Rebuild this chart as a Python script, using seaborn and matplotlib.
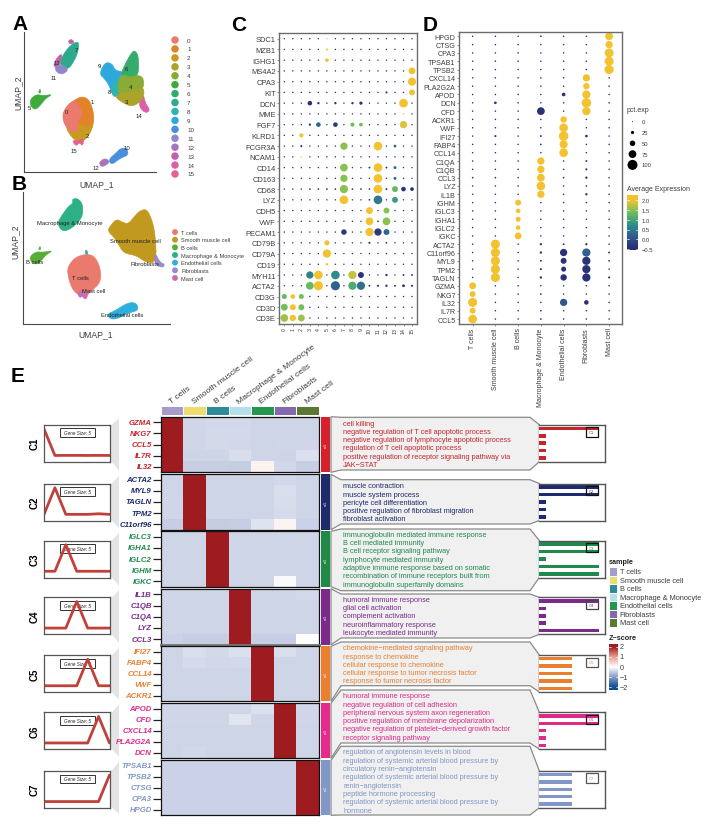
import numpy as np
import pandas as pd
import seaborn as sns
import matplotlib.pyplot as plt
from matplotlib.colors import LinearSegmentedColormap, ListedColormap
from matplotlib.patches import Polygon, Rectangle

W, H = 718, 829

# ---- panel A / B umap outlines (painted in list order, later ones sit on top)
a_1 = [(245,292),(265,300),(275,320),(282,350),(280,378),(270,400),(255,420),(240,428),(222,420),(205,395),(192,370),(190,345),(198,325),(220,305)]
a_2 = [(198,385),(235,372),(258,388),(281,368),(272,400),(256,422),(240,430),(222,422),(205,400)]
a_0 = [(188,345),(198,325),(220,303),(232,312),(250,345),(232,368),(236,398),(212,398),(200,385),(190,368)]
a_3 = [(345,295),(358,282),(395,278),(430,262),(433,290),(420,310),(395,323),(370,312)]
a_4 = [(352,262),(362,225),(390,235),(416,228),(431,238),(431,270),(395,288),(360,290)]
a_5 = [(90,302),(108,286),(130,290),(158,286),(137,298),(122,318),(106,333),(92,322)]
a_5b = [(115,282),(120,268),(123,282)]
a_6 = [(362,225),(378,190),(395,160),(405,154),(416,172),(416,230),(390,240),(370,240)]
a_7 = [(178,195),(190,165),(215,135),(236,127),(236,150),(226,180),(205,212),(190,200)]
a_8 = [(338,255),(352,240),(368,250),(362,285),(345,295),(335,285)]
a_9 = [(298,225),(314,190),(336,193),(346,215),(372,218),(365,250),(350,285),(335,285),(328,260),(314,240)]
a_10 = [(325,482),(350,460),(362,448),(380,447),(386,468),(360,478),(335,498)]
a_11 = [(163,205),(180,195),(207,210),(190,226),(172,222)]
a_12 = [(297,490),(315,477),(330,488),(316,500),(303,503)]
a_13 = [(160,196),(175,170),(188,165),(180,195),(165,206)]
a_13b = [(204,126),(214,120),(224,130),(210,136)]
a_14 = [(424,290),(432,292),(436,312),(451,334),(436,343),(416,322)]
a_15 = [(216,424),(232,426),(252,418),(248,442),(238,430),(228,442)]
a_shapes = [a_1,a_2,a_0,a_15,a_14,a_9,a_8,a_6,a_4,a_3,a_5,a_5b,a_10,a_12,a_7,a_11,a_13,a_13b]
a_shape_ids = [1,2,0,15,14,9,8,6,4,3,5,5,10,12,7,11,13,13]
a_names = [str(i) for i in range(16)]
a_colors = ['#ea7a6e','#e2832a','#c99a20','#aaa32c','#8aab35','#3eaa3c','#35ab6c','#2cab8c',
            '#2fb4b0','#2fa8dc','#4a8fdc','#8f88cc','#a873bb','#bf62aa','#dc5fa8','#e6608c']
a_label_x = [199,277,263,380,390,89,380,230,328,298,381,160,287,170,417,222]
a_label_y = [337,306,411,306,263,325,208,151,277,200,445,236,505,191,351,454]

b_t = [(200,815),(212,790),(230,773),(260,765),(285,772),(302,810),(302,850),(275,875),(255,895),(238,890),(215,870)]
b_sm = [(322,695),(335,675),(350,660),(368,670),(385,675),(405,650),(420,635),(440,630),(455,660),(465,700),(470,790),(440,792),(410,770),(370,762),(355,735),(342,715)]
b_b = [(90,772),(108,758),(130,760),(160,754),(137,768),(122,788),(106,797),(92,787)]
b_b2 = [(115,752),(120,740),(123,752)]
b_mac = [(172,672),(185,650),(205,622),(220,612),(216,600),(235,598),(250,620),(246,660),(210,692),(185,697)]
b_endo = [(322,945),(345,935),(385,910),(410,912),(416,934),(385,942),(350,960),(330,960)]
b_fib = [(465,760),(480,790),(494,795),(490,806),(470,800),(463,785)]
b_mast = [(232,885),(240,872),(262,880),(262,895),(255,902),(246,890),(240,897)]
b_mast2 = [(256,755),(260,752),(265,766),(256,766)]
b_shapes = [b_t,b_sm,b_b,b_b2,b_mac,b_endo,b_fib,b_mast,b_mast2]
b_shape_ids = [0,1,2,2,3,4,5,6,3]
b_names = ['T cells','Smooth muscle cell','B cells','Macrophage & Monocyte','Endothelial cells','Fibroblasts','Mast cell']
b_colors = ['#ea7a6e','#c0991e','#57ad35','#2eb087','#2fb0dc','#9a8acb','#cc6cb0']
b_label_x = [240,405,105,210,368,435,281]
b_label_y = [836,725,787,671,947,795,876]

# ---- panel C dotplot
c_genes = ['SDC1','MZB1','IGHG1','MS4A2','CPA3','KIT','DCN','MME','FGF7','KLRD1','FCGR3A','NCAM1','CD14','CD163',
           'CD68','LYZ','CDH5','VWF','PECAM1','CD79B','CD79A','CD19','MYH11','ACTA2','CD3G','CD3D','CD3E']
c_clusters = [str(i) for i in range(16)]
# gene, cluster, pct.exp, avg expression
c_hits = [('SDC1',5,4,2),('MZB1',5,12,2),('IGHG1',5,28,2),('MS4A2',15,65,2),('CPA3',15,80,2),('KIT',15,55,2),('KIT',12,12,-.4),
          ('DCN',3,40,-.4),('DCN',4,15,-.4),('DCN',6,15,-.4),('DCN',8,15,-.4),('DCN',9,25,-.4),('DCN',14,85,2),('MME',14,6,2),
          ('FGF7',3,15,-.3),('FGF7',4,40,.3),('FGF7',6,40,-.3),('FGF7',8,35,1.4),('FGF7',9,30,1.4),('FGF7',14,70,1.9),
          ('KLRD1',2,35,2),('FCGR3A',2,12,-.4),('FCGR3A',7,70,1.5),('FCGR3A',11,85,2),('FCGR3A',13,20,.3),('NCAM1',2,4,2),
          ('CD14',7,75,1.5),('CD14',10,10,-.4),('CD14',11,85,2),('CD14',12,10,-.4),('CD14',13,22,.4),
          ('CD163',7,70,1.5),('CD163',11,85,2),('CD163',13,22,.3),('CD68',3,8,-.4),('CD68',4,8,-.4),('CD68',5,8,-.4),('CD68',6,8,-.4),
          ('CD68',7,80,1.5),('CD68',8,8,-.4),('CD68',9,8,-.4),('CD68',10,8,-.4),('CD68',11,85,2),('CD68',12,10,-.4),('CD68',13,55,1.3),('CD68',14,40,-.4),('CD68',15,30,-.4),
          ('LYZ',7,85,2),('LYZ',10,8,-.4),('LYZ',11,85,.5),('LYZ',13,55,.9),('CDH5',10,65,2),('CDH5',12,55,1.5),
          ('VWF',10,75,2),('VWF',11,8,-.4),('VWF',12,75,1.5),('PECAM1',7,50,-.3),('PECAM1',10,80,2),('PECAM1',11,70,-.3),('PECAM1',12,55,.3),
          ('CD79B',5,45,2),('CD79B',10,12,-.4),('CD79B',12,8,-.4),('CD79A',5,80,2),('CD19',5,15,2),
          ('MYH11',3,70,.6),('MYH11',4,85,2),('MYH11',6,85,.7),('MYH11',8,80,1.8),('MYH11',9,55,-.4),('MYH11',12,15,-.4),('MYH11',14,10,-.4),('MYH11',15,10,-.4),
          ('ACTA2',3,75,1.3),('ACTA2',4,90,2),('ACTA2',6,90,.2),('ACTA2',8,80,1.1),('ACTA2',9,80,.4),('ACTA2',10,10,-.4),('ACTA2',11,12,-.4),('ACTA2',12,15,-.4),('ACTA2',13,10,-.4),('ACTA2',14,20,-.4),('ACTA2',15,12,-.4),
          ('CD3G',0,45,1.3),('CD3G',1,40,2),('CD3G',2,45,1.4),('CD3D',0,65,1.4),('CD3D',1,55,2),('CD3D',2,55,1.4),
          ('CD3E',0,75,1.6),('CD3E',1,60,2),('CD3E',2,65,1.6)]

# ---- panel D dotplot
d_genes = ['HPGD','CTSG','CPA3','TPSAB1','TPSB2','CXCL14','PLA2G2A','APOD','DCN','CFD','ACKR1','VWF','IFI27','FABP4','CCL14',
           'C1QA','C1QB','CCL3','LYZ','IL1B','IGHM','IGLC3','IGHA1','IGLC2','IGKC','ACTA2','C11orf96','MYL9','TPM2','TAGLN',
           'GZMA','NKG7','IL32','IL7R','CCL5']
d_hits = [('HPGD',6,75,2),('HPGD',3,8,-.4),('CTSG',6,70,2),('CPA3',6,88,2),('TPSAB1',6,88,2),('TPSB2',6,90,2),
          ('CXCL14',5,70,2),('PLA2G2A',5,60,2),('APOD',5,80,2),('APOD',4,30,-.4),('DCN',5,95,2),('DCN',1,18,-.4),
          ('CFD',5,80,2),('CFD',3,75,-.4),('ACKR1',4,60,2),('VWF',4,85,2),('IFI27',4,95,2),('IFI27',1,12,-.4),('IFI27',3,10,-.4),('IFI27',5,18,-.4),
          ('FABP4',4,80,2),('FABP4',3,8,-.4),('CCL14',4,85,2),('C1QA',3,70,2),('C1QA',5,10,-.4),('C1QB',3,70,2),('C1QB',5,12,-.4),
          ('CCL3',3,75,2),('CCL3',0,8,-.4),('CCL3',1,8,-.4),('CCL3',4,8,-.4),('CCL3',5,15,-.4),('LYZ',3,85,2),('LYZ',5,8,-.4),('IL1B',3,70,2),('IL1B',5,15,-.4),
          ('IGHM',2,55,2),('IGLC3',2,40,2),('IGHA1',2,45,2),('IGLC2',2,40,2),('IGKC',2,65,2),
          ('ACTA2',1,90,2),('ACTA2',3,14,-.4),('ACTA2',4,10,-.4),('ACTA2',5,14,-.4),
          ('C11orf96',1,90,2),('C11orf96',3,15,-.4),('C11orf96',4,70,-.4),('C11orf96',5,80,.2),('C11orf96',6,10,-.4),
          ('MYL9',1,90,2),('MYL9',3,10,-.4),('MYL9',4,55,-.4),('MYL9',5,80,-.4),('MYL9',6,8,-.4),
          ('TPM2',1,90,2),('TPM2',3,12,-.4),('TPM2',4,45,-.4),('TPM2',5,80,-.4),('TPM2',6,6,-.4),
          ('TAGLN',1,90,2),('TAGLN',3,15,-.4),('TAGLN',4,60,-.4),('TAGLN',5,80,-.4),('TAGLN',6,12,-.4),
          ('GZMA',0,65,2),('NKG7',0,55,2),('NKG7',3,8,-.4),('IL32',0,90,2),('IL32',1,6,-.4),('IL32',4,70,.1),('IL32',5,40,-.4),
          ('IL7R',0,55,2),('IL7R',3,8,-.4),('CCL5',0,85,2),('CCL5',3,8,-.4),('CCL5',2,6,-.4)]
pct_levels = [0,25,50,75,100]
avg_ticks = [2.0,1.5,1.0,0.5,0.0,-0.5]

# ---- panel E
e_clusters = ['C1','C2','C3','C4','C5','C6','C7']
e_genes = [['GZMA','NKG7','CCL5','IL7R','IL32'],['ACTA2','MYL9','TAGLN','TPM2','C11orf96'],['IGLC3','IGHA1','IGLC2','IGHM','IGKC'],
           ['IL1B','C1QB','C1QA','LYZ','CCL3'],['IFI27','FABP4','CCL14','VWF','ACKR1'],['APOD','CFD','CXCL14','PLA2G2A','DCN'],
           ['TPSAB1','TPSB2','CTSG','CPA3','HPGD']]
e_colors = ['#c4262e','#1f2a6e','#1f8a4c','#7b2a8c','#e8802f','#e0298a','#8097c8']
bar_colors = ['#d6202c','#1f2a6e','#1f8a45','#7b2a8c','#ec7f2d','#e6298a','#8097c8']
z_c1 = [[2.27,-.40,-.38,-.38,-.41,-.41,-.41],[2.27,-.40,-.37,-.36,-.41,-.41,-.41],[2.27,-.40,-.37,-.38,-.41,-.40,-.40],
        [2.27,-.42,-.41,-.32,-.42,-.42,-.30],[2.2,-.47,-.47,-.50,.13,-.38,-.48]]
z_c2 = [[-.42,2.27,-.42,-.42,-.42,-.38,-.42],[-.42,2.27,-.42,-.42,-.42,-.32,-.42],[-.40,2.27,-.42,-.42,-.42,-.34,-.42],
        [-.40,2.27,-.42,-.42,-.42,-.35,-.42],[-.48,2.26,-.49,-.48,-.28,.12,-.45]]
z_c3 = [[-.42,-.42,2.27,-.42,-.42,-.42,-.42],[-.42,-.42,2.27,-.42,-.42,-.42,-.42],[-.42,-.42,2.27,-.42,-.42,-.42,-.42],
        [-.42,-.42,2.27,-.42,-.42,-.42,-.42],[-.42,-.42,2.27,-.42,-.42,-.05,-.42]]
z_c4 = [[-.40,-.42,-.42,2.27,-.42,-.42,-.37],[-.42,-.42,-.42,2.27,-.42,-.42,-.42],[-.42,-.42,-.42,2.27,-.42,-.42,-.42],
        [-.42,-.42,-.42,2.27,-.42,-.42,-.42],[-.44,-.47,-.48,2.25,-.47,-.47,0.0]]
z_c5 = [[-.42,-.32,-.37,-.30,2.27,-.32,-.42],[-.42,-.35,-.38,-.37,2.27,-.42,-.42],[-.42,-.42,-.42,-.42,2.27,-.42,-.42],
        [-.42,-.42,-.42,-.42,2.27,-.42,-.42],[-.42,-.42,-.42,-.42,2.27,-.42,-.42]]
z_c6 = [[-.40,-.40,-.40,-.40,-.30,2.27,-.40],[-.40,-.40,-.40,-.26,-.40,2.27,-.40],[-.42,-.42,-.42,-.42,-.42,2.27,-.42],
        [-.42,-.42,-.42,-.42,-.42,2.27,-.42],[-.42,-.38,-.42,-.42,-.42,2.27,-.42]]
z_c7 = [[-.44,-.44,-.44,-.44,-.44,-.44,2.27]]*5
e_z = [z_c1,z_c2,z_c3,z_c4,z_c5,z_c6,z_c7]
sample_names = b_names
sample_colors = ['#a79cc9','#f0dc6e','#2e8b9a','#b5dfea','#22994a','#8469b0','#5a7a34']
trend_c1 = [2.27,-.41,-.40,-.40,-.41,-.40,-.41]
trend_c2 = [-.42,2.27,-.42,-.42,-.42,-.36,-.42]
trend_c3 = [-.41,-.41,2.27,-.41,-.41,-.41,-.41]
trend_c4 = [-.41,-.41,-.41,2.27,-.41,-.41,-.41]
trend_c5 = [-.41,-.41,-.41,-.41,2.27,-.41,-.41]
trend_c6 = [-.41,-.41,-.41,-.41,-.41,2.27,-.41]
trend_c7 = [-.41,-.41,-.41,-.41,-.41,-.41,2.27]
e_trends = [trend_c1,trend_c2,trend_c3,trend_c4,trend_c5,trend_c6,trend_c7]
bars_c1 = [60,7,7,7,7]
bars_c2 = [60,60,7,7,7]
bars_c3 = [60,60,7,60,60]
bars_c4 = [60,7,7,7,60]
bars_c5 = [33,33,33,33,33]
bars_c6 = [60,60,7,7,7]
bars_c7 = [33,33,33,33,33]
e_bars = [bars_c1,bars_c2,bars_c3,bars_c4,bars_c5,bars_c6,bars_c7]
terms_c1 = ['cell killing','negative regulation of T cell apoptotic process','negative regulation of lymphocyte apoptotic process',
            'regulation of T cell apoptotic process','positive regulation of receptor signaling pathway via','JAK\u2212STAT']
terms_c2 = ['muscle contraction','muscle system process','pericyte cell differentiation','positive regulation of fibroblast migration','fibroblast activation']
terms_c3 = ['immunoglobulin mediated immune response','B cell mediated immunity','B cell receptor signaling pathway','lymphocyte mediated immunity',
            'adaptive immune response based on somatic','recombination of immune receptors built from','immunoglobulin superfamily domains']
terms_c4 = ['humoral immune response','glial cell activation','complement activation','neuroinflammatory response','leukocyte mediated immunity']
terms_c5 = ['chemokine\u2212mediated signaling pathway','response to chemokine','cellular response to chemokine','cellular response to tumor necrosis factor','response to tumor necrosis factor']
terms_c6 = ['humoral immune response','negative regulation of cell adhesion','peripheral nervous system axon regeneration','positive regulation of membrane depolarization',
            'negative regulation of platelet\u2212derived growth factor','receptor signaling pathway']
terms_c7 = ['regulation of angiotensin levels in blood','regulation of systemic arterial blood pressure by','circulatory renin\u2212angiotensin',
            'regulation of systemic arterial blood pressure by','renin\u2212angiotensin','peptide hormone processing','regulation of systemic arterial blood pressure by','hormone']
e_terms = [terms_c1,terms_c2,terms_c3,terms_c4,terms_c5,terms_c6,terms_c7]

# layout, in reference pixels
block_top = [417.7,475.3,532.3,589.7,647.3,704.3,761.3]
block_bot = [473.3,530.7,587.7,645.7,702.3,759.3,816.3]
side_top = [425.7,484.5,541.5,598.3,656,713.2,771.8]
text_top = [418.3,480.7,530,595,643,691,747.3]
text_bot = [471,525,591.7,639,686.7,744,816]
line_top = [424,486.7,535.3,600.3,648.7,696.7,753]
tag_edge = ['#111111','#111111','#111111','#444444','#555555','#111111','#555555']

sns.set_theme(style='white')
plt.rcParams['font.family'] = ['Liberation Sans', 'DejaVu Sans']
plt.rcParams['axes.linewidth'] = 0.8
TXT = '#3d3d3d'
EDGE = '#6b6b6b'

fig = plt.figure(figsize=(W / 100, H / 100), dpi=100)


def pax(x0, y0, x1, y1):
    ax = fig.add_axes([x0 / W, 1 - y1 / H, (x1 - x0) / W, (y1 - y0) / H])
    ax.patch.set_alpha(0)
    return ax


page = pax(0, 0, W, H)
page.set_xlim(0, W)
page.set_ylim(H, 0)
page.axis('off')


def tx(x, y, s, size=5, color=TXT, **kw):
    kw.setdefault('va', 'center')
    page.text(x, y, s, fontsize=size, color=color, **kw)


for lab, x, y in [('A', 12, 24), ('B', 12, 184), ('C', 231, 25), ('D', 423, 25), ('E', 11, 376.7)]:
    tx(x, y, lab, size=15, color='black', fontweight='bold')


def rounded(pts, rounds=2):
    # corner cutting so the outlines read as cell clouds
    p = np.array(pts, dtype=float)
    for _ in range(rounds):
        nxt = np.roll(p, -1, axis=0)
        p = np.column_stack([.75 * p + .25 * nxt, .25 * p + .75 * nxt]).reshape(-1, 2)
    return p


# umap panels
def umap_panel(box, lims, shapes, ids, colors):
    ax = pax(*box)
    for pts, k in zip(shapes, ids):
        p = rounded(pts)
        ax.fill(p[:, 0], p[:, 1], color=colors[k], lw=0.4)
    ax.set_xlim(lims[0], lims[1])
    ax.set_ylim(lims[3], lims[2])
    ax.set_xticks([])
    ax.set_yticks([])
    sns.despine(ax=ax)
    for s in ['left', 'bottom']:
        ax.spines[s].set_color('#4a4a4a')
    return ax


ax_a = umap_panel((24, 33, 156, 173), (72, 468, 99, 519), a_shapes, a_shape_ids, a_colors)
for n, x, y in zip(a_names, a_label_x, a_label_y):
    ax_a.text(x, y, n, fontsize=4.3, color='#222222', ha='center', va='center')
ax_b = umap_panel((23, 193, 170, 325), (69, 510, 579, 975), b_shapes, b_shape_ids, b_colors)
for n, x, y in zip(b_names, b_label_x, b_label_y):
    ax_b.text(x, y, n, fontsize=4.2, color='#222222', ha='center', va='center')
tx(97, 185, 'UMAP_1', size=6.2, ha='center')
tx(18, 93, 'UMAP_2', size=6.2, ha='center', rotation=90)
tx(96, 335, 'UMAP_1', size=6.2, ha='center')
tx(15, 242, 'UMAP_2', size=6.2, ha='center', rotation=90)

leg_a = pax(170, 37, 180, 179)
sns.scatterplot(x=[0] * 16, y=a_names, hue=a_names, palette=a_colors, s=29, linewidth=0, legend=False, ax=leg_a)
leg_a.set_ylim(15.45, -0.45)
leg_a.axis('off')
for i, n in enumerate(a_names):
    tx(187, 41 + i * 8.93, n, size=4.5)
leg_b = pax(170, 229.2, 180, 282.8)
sns.scatterplot(x=[0] * 7, y=b_names, hue=b_names, palette=b_colors, s=18, linewidth=0, legend=False, ax=leg_b)
leg_b.set_ylim(6.5, -0.5)
leg_b.axis('off')
for i, n in enumerate(b_names):
    tx(181, 233 + i * 7.67, n, size=4.1)

# dotplots
dot_cmap = LinearSegmentedColormap.from_list('avg', ['#2b2a73', '#2f5a8f', '#2f8f8a', '#6cbf5c', '#f2c230'])


def dot_area(p):
    return (0.72 * (1 + 0.09 * p)) ** 2


def dot_panel(box, genes, cols, hits, pad, base_pct):
    ax = pax(*box)
    lookup = {(g, c): (p, a) for g, c, p, a in hits}
    rows = []
    for g in genes:
        for i, c in enumerate(cols):
            p, a = lookup.get((g, i), (base_pct, -.4))
            rows.append((g, c, p, a))
    df = pd.DataFrame(rows, columns=['gene', 'cluster', 'pct', 'avg'])
    sizes = {p: dot_area(p) for p in df['pct'].unique()}
    sns.scatterplot(data=df, x='cluster', y='gene', hue='avg', size='pct', sizes=sizes, palette=dot_cmap,
                    hue_norm=(-.5, 2), linewidth=0, legend=False, ax=ax)
    ax.set_xlim(-pad[0], len(cols) - 1 + pad[1])
    ax.set_ylim(len(genes) - 1 + pad[3], -pad[2])
    ax.set_xlabel('')
    ax.set_ylabel('')
    for s in ax.spines.values():
        s.set_color(EDGE)
        s.set_linewidth(1.0)
    ax.tick_params(left=True, bottom=True, length=1.5, width=0.5, color=EDGE, pad=1, labelcolor=TXT)
    return ax


ax_c = dot_panel((279.3, 34, 416.7, 325), c_genes, c_clusters, c_hits, (.59, .55, .53, .56), 5)
ax_c.tick_params(axis='y', labelsize=5.4)
ax_c.tick_params(axis='x', labelsize=3.8, labelrotation=90)
ax_d = dot_panel((459, 32.7, 622.3, 324.7), d_genes, b_names, d_hits, (.6, .58, .55, .56), 6)
ax_d.tick_params(axis='y', labelsize=5.1)
ax_d.tick_params(axis='x', labelsize=5, labelrotation=90)

tx(627, 110.7, 'pct.exp', size=5)
leg_p = pax(627, 117.3, 638, 171.3)
sns.scatterplot(x=[0] * 5, y=[str(p) for p in pct_levels], hue=[str(p) for p in pct_levels],
                palette=['black'] * 5, size=pct_levels, sizes={p: dot_area(p) for p in pct_levels},
                linewidth=0, legend=False, ax=leg_p)
leg_p.set_ylim(4.5, -0.5)
leg_p.axis('off')
for i, p in enumerate(pct_levels):
    tx(642, 122.7 + i * 10.8, str(p), size=4.2)
tx(627, 189, 'Average Expression', size=5)
cb = pax(627.3, 196, 638, 251)
cb.imshow(np.linspace(2.27, -.55, 200)[:, None], aspect='auto', cmap=dot_cmap, vmin=-.5, vmax=2, extent=(0, 1, -.55, 2.27))
cb.axis('off')
for v in avg_ticks:
    cb.plot([0, .2], [v, v], color='white', lw=.5)
    cb.plot([.8, 1], [v, v], color='white', lw=.5)
    tx(642, 250.5 - (v + .5) * 19.6, '\u2212%.1f' % -v if v < 0 else '%.1f' % v, size=4.2)
cb.set_xlim(0, 1)
cb.set_ylim(-.55, 2.27)

# panel E
z_cmap = LinearSegmentedColormap.from_list('z', [(0, '#0b4f94'), (.25, '#8a99c6'), (.5, '#ffffff'), (.75, '#e8a090'), (1, '#9e1c20')])
hm_x0, hm_x1 = 160.7, 319

top = pax(hm_x0, 407, hm_x1, 415.7)
sns.heatmap([list(range(7))], cmap=ListedColormap(sample_colors), cbar=False, linewidths=.5, linecolor='white',
            xticklabels=False, yticklabels=False, ax=top)
for k, n in enumerate(sample_names):
    tx(hm_x0 + (k + .5) * (hm_x1 - hm_x0) / 7 - 1, 404, n, size=6.1, rotation=36.5, rotation_mode='anchor', ha='left', va='baseline')

for i, c in enumerate(e_clusters):
    y0, y1 = block_top[i], block_bot[i]
    col = e_colors[i]

    # text shape behind the axes
    b0, b1 = text_top[i], text_bot[i]
    s0, s1 = side_top[i], side_top[i] + 37
    page.add_patch(Polygon([(331, y0), (341, b0), (530, b0), (539.3, s0), (539.3, s1), (530, b1), (341, b1), (331, y1)],
                           closed=True, fc='#f0f0f0', ec='#8a8a8a', lw=.9, zorder=1))
    for k, t in enumerate(e_terms[i]):
        tx(343, line_top[i] + k * 8.32, t, size=5.3, color=col, zorder=3)

    # funnel
    page.add_patch(Polygon([(110, s0 + 2), (119, y0 + 1.5), (119, y1 - 1.5), (110, s1 - 2)], closed=True, fc='#e4e4e4', ec='none', zorder=1))
    tx(35, s0 + 18.5, c, size=7, color='black', fontweight='bold', ha='center', rotation=90)

    # trend
    tr = pax(44, s0, 109.5, s1)
    tr.add_patch(Rectangle((.244, .66), .536, .24, transform=tr.transAxes, fc='white', ec='#333333', lw=.7, zorder=1))
    tr.text(.512, .78, 'Gene Size: 5', transform=tr.transAxes, fontsize=3.3, style='italic', color='#222222', ha='center', va='center', zorder=1)
    sns.lineplot(x=list(range(7)), y=e_trends[i], color='#c2403a', lw=2, ax=tr, zorder=2)
    tr.set_xlim(0, 6)
    tr.set_ylim(-1.04, 2.7)
    tr.set_xticks([])
    tr.set_yticks([])
    for s in tr.spines.values():
        s.set_color('#555555')
        s.set_linewidth(.9)

    # heatmap
    hm = pax(hm_x0, y0, hm_x1, y1)
    sns.heatmap(e_z[i], cmap=z_cmap, vmin=-2, vmax=2, cbar=False, xticklabels=False, yticklabels=e_genes[i], ax=hm)
    hm.tick_params(axis='y', left=True, length=5.6, width=.9, color='#222222', pad=.8, labelsize=5.6)
    for lab in hm.get_yticklabels():
        lab.set(color=col, fontstyle='italic', fontweight='bold', rotation=0)
    for s in hm.spines.values():
        s.set_visible(True)
        s.set_color('#111111')
        s.set_linewidth(.9)
    if c == 'C4':
        hm.spines['bottom'].set_color('#777777')
        hm.spines['bottom'].set_linewidth(2)

    # n bar
    page.add_patch(Rectangle((321, y0), 9.3, y1 - y0, fc=bar_colors[i], ec='none', zorder=2))
    tx(325.6, (y0 + y1) / 2, 'n:5', size=2.8, color='white', rotation=90, ha='center', zorder=3)

    # term bars
    br = pax(539.3, s0, 605, s1)
    br.patch.set_alpha(1)
    br.patch.set_facecolor('white')
    sns.barplot(x=e_bars[i], y=[str(k) for k in range(5)], color=col, saturation=1, width=.46, orient='h', linewidth=0, ax=br)
    br.set_xlim(0, 65.7)
    br.set_ylim(4.5, -.5)
    br.set_xticks([])
    br.set_yticks([])
    br.set_xlabel('')
    br.set_ylabel('')
    for s in br.spines.values():
        s.set_color('#555555')
        s.set_linewidth(1.0)
    br.spines['left'].set_visible(False)
    br.add_patch(Rectangle((.706, .68), .191, .25, transform=br.transAxes, fc='none', ec=tag_edge[i], lw=.9, zorder=4))
    br.text(.80, .805, c, transform=br.transAxes, fontsize=3, color=col, ha='center', va='center', zorder=4)

# sample legend
tx(609, 562, 'sample', size=5.2, color='#222222', fontweight='bold')
leg_s = pax(609.3, 568.4, 617.3, 627.9)
sns.heatmap([[k] for k in range(7)], cmap=ListedColormap(sample_colors), cbar=False, linewidths=.5, linecolor='white',
            xticklabels=False, yticklabels=False, ax=leg_s)
for k, n in enumerate(sample_names):
    tx(619.7, 572.7 + k * 8.5, n, size=5.3)

# z legend
tx(609, 639, 'Z\u2212score', size=5.2, color='#222222', fontweight='bold')
zb = pax(609.3, 645, 618, 691)
zb.imshow(np.linspace(2.27, -2.27, 200)[:, None], aspect='auto', cmap=z_cmap, vmin=-2, vmax=2, extent=(0, 1, -2.27, 2.27))
zb.axis('off')
for v in [2, 1, 0, -1, -2]:
    zb.plot([0, .2], [v, v], color='white', lw=.5)
    zb.plot([.8, 1], [v, v], color='white', lw=.5)
    tx(619.5, 668 - v * 10.2, '\u2212%d' % -v if v < 0 else str(v), size=5.2)
zb.set_xlim(0, 1)
zb.set_ylim(-2.27, 2.27)

fig.savefig('out.png', dpi=100)
